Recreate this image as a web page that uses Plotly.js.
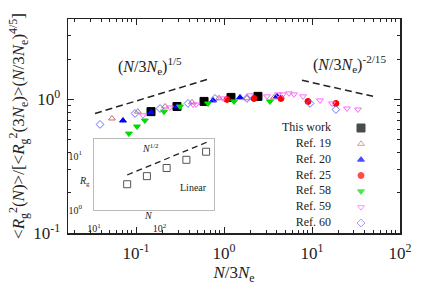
<!DOCTYPE html>
<html><head><meta charset="utf-8">
<script src="https://cdn.plot.ly/plotly-3.0.1.min.js"></script>
<style>html,body{margin:0;padding:0;background:#fff;}#chart{width:429px;height:301px;}</style>
</head><body><div id="chart"></div>
<script>
// ---- data ----
const thisWorkX = [0.148, 0.292, 0.593, 1.20, 2.43];
const thisWorkY = [0.81, 0.885, 0.966, 1.035, 1.054];
const ref19X = [0.0533, 0.105, 0.214, 0.433, 0.877, 1.82, 3.70];
const ref19Y = [0.72, 0.81, 0.885, 0.95, 1.02, 1.02, 1.035];
const ref20X = [0.0711, 0.148, 0.292, 0.75, 1.52, 4.0];
const ref20Y = [0.695, 0.80, 0.885, 0.983, 1.035, 1.054];
const ref25X = [1.08, 2.19, 4.44, 9.0, 18.7];
const ref25Y = [1.0, 1.017, 1.017, 0.966, 0.933];
const ref58X = [0.083, 0.1026, 0.126, 0.208, 0.316, 0.658, 1.30, 3.33];
const ref58Y = [0.555, 0.627, 0.695, 0.81, 0.885, 0.933, 0.966, 0.966];
const ref59X = [0.120, 0.243, 0.445, 0.481, 0.975, 1.97, 3.08, 4.11, 4.68, 5.48, 6.24, 7.9, 12.3, 16.9, 25.0, 33.3];
const ref59Y = [0.76, 0.87, 0.916, 0.916, 1.017, 1.072, 1.054, 1.09, 1.09, 1.11, 1.09, 1.054, 0.983, 0.933, 0.855, 0.84];
const ref60X = [0.039, 0.0975, 0.1875, 0.39, 0.79, 1.82, 9.5, 18.7];
const ref60Y = [0.65, 0.785, 0.855, 0.933, 1.017, 1.017, 0.933, 0.84];
// guide lines
const guide15X = [0.0342, 0.641];
const guide15Y = [0.785, 1.41];
const guide215X = [7.7, 49.3];
const guide215Y = [1.39, 1.055];
// inset
const insetN = [32, 64, 128, 256, 512];
const insetRg = [3.0, 4.24, 6.0, 8.5, 12.0];
const insetGuideN = [32, 525];
const insetGuideRg = [4.45, 18.0];
// legend
const legendLabels = ['This work', 'Ref. 19', 'Ref. 20', 'Ref. 25', 'Ref. 58', 'Ref. 59', 'Ref. 60'];
const xTickVals = [0.1, 1, 10, 100];
const xTickText = ['10<sup>-1</sup>', '10<sup>0</sup>', '10<sup>1</sup>', '10<sup>2</sup>'];
const yTickVals = [0.1, 1];
const yTickText = ['10<sup>-1</sup>', '10<sup>0</sup>'];
const inXTickVals = [10, 100];
const inXTickText = ['10<sup>1</sup>', '10<sup>2</sup>'];
const inYTickVals = [1, 10];
const inYTickText = ['10<sup>0</sup>', '10<sup>1</sup>'];
const minorDigits = [2, 3, 4, 5, 6, 7, 8, 9];
const xDecades = [0.01, 0.1, 1, 10];
const yDecades = [0.1, 1];

const FONT = 'Liberation Serif, Times New Roman, serif';
const styles = [
  {symbol: 'square', color: '#000000', size: 8, lsize: 8},
  {symbol: 'triangle-up-open', color: '#c07070', size: 6, lsize: 6},
  {symbol: 'triangle-up', color: '#0000ff', size: 6, lsize: 6},
  {symbol: 'circle', color: '#ff0000', size: 6, lsize: 6},
  {symbol: 'triangle-down', color: '#00dd00', size: 6, lsize: 6},
  {symbol: 'triangle-down-open', color: '#ff66ff', size: 6, lsize: 6},
  {symbol: 'diamond-open', color: '#7070ff', size: 6, lsize: 6}
];
const seriesX = [thisWorkX, ref19X, ref20X, ref25X, ref58X, ref59X, ref60X];
const seriesY = [thisWorkY, ref19Y, ref20Y, ref25Y, ref58Y, ref59Y, ref60Y];

const minorOf = decs => decs.flatMap(d => minorDigits.map(m => m * d));

const traces = [];
seriesX.forEach((xs, i) => {
  traces.push({
    x: xs, y: seriesY[i], type: 'scatter', mode: 'markers', name: legendLabels[i],
    xaxis: 'x', yaxis: 'y', showlegend: false,
    marker: {symbol: styles[i].symbol, color: styles[i].color, size: styles[i].size,
             line: {color: styles[i].color, width: 1}}
  });
});
traces.push({x: guide15X, y: guide15Y, type: 'scatter', mode: 'lines', showlegend: false,
  line: {color: '#222', width: 1.5, dash: '7px,4px'}, xaxis: 'x', yaxis: 'y'});
traces.push({x: guide215X, y: guide215Y, type: 'scatter', mode: 'lines', showlegend: false,
  line: {color: '#222', width: 1.5, dash: '7px,4px'}, xaxis: 'x', yaxis: 'y'});
// inset
traces.push({x: insetN, y: insetRg, type: 'scatter', mode: 'markers', showlegend: false,
  xaxis: 'x2', yaxis: 'y2',
  marker: {symbol: 'square-open', color: '#555', size: 7, line: {width: 1}}});
traces.push({x: insetGuideN, y: insetGuideRg, type: 'scatter', mode: 'lines', showlegend: false,
  xaxis: 'x2', yaxis: 'y2', line: {color: '#222', width: 1.3, dash: '6px,4px'}});
// legend (text then symbol)
const legIdx = legendLabels.map((_, i) => i);
traces.push({x: legIdx.map(() => 0), y: legIdx, type: 'scatter', mode: 'text', text: legendLabels,
  textposition: 'middle left', cliponaxis: false, showlegend: false, xaxis: 'x3', yaxis: 'y3',
  textfont: {family: FONT, size: 12, color: '#222'}, hoverinfo: 'skip'});
traces.push({x: legIdx.map(() => 1), y: legIdx, type: 'scatter', mode: 'markers', cliponaxis: false,
  showlegend: false, xaxis: 'x3', yaxis: 'y3',
  marker: {symbol: styles.map(s => s.symbol), color: styles.map(s => s.color),
           size: styles.map(s => s.lsize), line: {color: styles.map(s => s.color), width: 1}}});

const W = 429, H = 301;
const L = 68, R = 29, T = 19, B = 68;
const pw = W - L - R, ph = H - T - B;
const px = v => (v - L) / pw;
const py = v => (H - B - v) / ph;
const ann = (x, y, text, size) => ({xref: 'paper', yref: 'paper', x: px(x), y: py(y),
  xanchor: 'center', yanchor: 'middle', showarrow: false, text: text,
  font: {family: FONT, size: size, color: '#222'}});

const layout = {
  width: W, height: H,
  margin: {l: L, r: R, t: T, b: B, pad: 0},
  paper_bgcolor: '#fff', plot_bgcolor: 'rgba(0,0,0,0)',
  font: {family: FONT, size: 14, color: '#222'},
  showlegend: false,
  xaxis: {
    type: 'log', range: [-1.773, 2], domain: [0, 1], anchor: 'y',
    showline: true, linecolor: '#222', linewidth: 1.5, mirror: 'ticks',
    ticks: 'inside', ticklen: 6, tickcolor: '#222', tickwidth: 1,
    tickvals: xTickVals, ticktext: xTickText, tickfont: {family: FONT, size: 17},
    ticklabelstandoff: 4,
    minor: {tickvals: minorOf(xDecades), ticks: 'inside', ticklen: 3, tickcolor: '#222', tickwidth: 1, showgrid: false},
    showgrid: false, zeroline: false,
    title: {text: '<i>N</i>/3<i>N</i><sub>e</sub>', font: {family: FONT, size: 17}, standoff: 4}
  },
  yaxis: {
    type: 'log', range: [-1, 0.602], domain: [0, 1], anchor: 'x',
    showline: true, linecolor: '#222', linewidth: 1.5, mirror: 'ticks',
    ticks: 'inside', ticklen: 6, tickcolor: '#222', tickwidth: 1,
    tickvals: yTickVals, ticktext: yTickText, tickfont: {family: FONT, size: 17},
    ticklabelstandoff: 3,
    minor: {tickvals: minorOf(yDecades), ticks: 'inside', ticklen: 3, tickcolor: '#222', tickwidth: 1, showgrid: false},
    showgrid: false, zeroline: false,
    title: {text: '&lt;<i>R</i><sub>g</sub><sup>2</sup>(<i>N</i>)&gt;/[&lt;<i>R</i><sub>g</sub><sup>2</sup>(3<i>N</i><sub>e</sub>)&gt;(<i>N</i>/3<i>N</i><sub>e</sub>)<sup>4/5</sup>]',
            font: {family: FONT, size: 17}, standoff: 4}
  },
  xaxis2: {
    type: 'log', range: [0.999, 2.83], domain: [px(94), px(214)], anchor: 'y2',
    showline: true, linecolor: '#bbb', linewidth: 1, mirror: true, ticks: '',
    tickvals: inXTickVals, ticktext: inXTickText, tickfont: {family: FONT, size: 10},
    ticklabelstandoff: 9, showgrid: false, zeroline: false
  },
  yaxis2: {
    type: 'log', range: [0, 1.315], domain: [py(210), py(139)], anchor: 'x2',
    showline: true, linecolor: '#bbb', linewidth: 1, mirror: true, ticks: '',
    tickvals: inYTickVals, ticktext: inYTickText, tickfont: {family: FONT, size: 10},
    ticklabelstandoff: 9, showgrid: false, zeroline: false
  },
  xaxis3: {visible: false, range: [0, 1], domain: [px(331), px(361)], anchor: 'y3', fixedrange: true},
  yaxis3: {visible: false, range: [6, 0], domain: [py(223), py(128)], anchor: 'x3', fixedrange: true},
  annotations: [
    ann(150, 66, '(<i>N</i>/3<i>N</i><sub>e</sub>)<sup>1/5</sup>', 16),
    ann(349, 64, '(<i>N</i>/3<i>N</i><sub>e</sub>)<sup>-2/15</sup>', 16),
    ann(150, 148, '<i>N</i><sup>1/2</sup>', 10),
    ann(193, 187, 'Linear', 10),
    ann(84, 181, '<i>R</i><sub>g</sub>', 10),
    ann(148, 215, '<i>N</i>', 10)
  ]
};
Plotly.newPlot('chart', traces, layout, {staticPlot: true, displayModeBar: false});
</script></body></html>
